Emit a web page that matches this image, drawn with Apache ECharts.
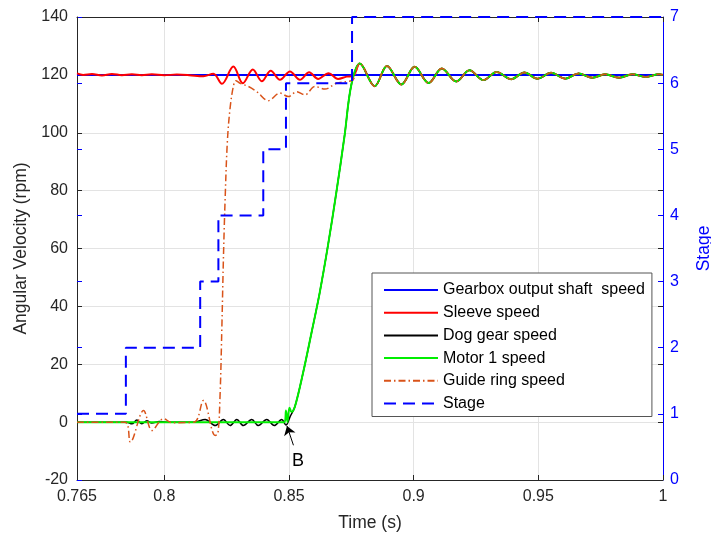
<!DOCTYPE html>
<html>
<head>
<meta charset="utf-8">
<script src="https://cdn.jsdelivr.net/npm/echarts@6/dist/echarts.min.js"></script>
<style>
  html, body { margin: 0; padding: 0; background: #fff; }
  #main { width: 711px; height: 541px; }
</style>
</head>
<body>
<div id="main"></div>
<script>
// tick labels of the time axis (not evenly spaced at the start)
var timeTicks = [0.765, 0.8, 0.85, 0.9, 0.95, 1];

// [time (s), speed (rpm)]
var gearboxSpeed = [[0.765, 120], [1, 120]];

var sleeveStart = [
  [0.765, 120.5], [0.7675, 120], [0.771, 120.3], [0.775, 119.8], [0.779, 120.3],
  [0.783, 119.9], [0.787, 120.2], [0.791, 119.9], [0.795, 120.2], [0.8, 119.9],
  [0.805, 120.1], [0.81, 119.9], [0.8157, 119.5], [0.8197, 120.4], [0.8231, 116.9],
  [0.8277, 122.9], [0.8315, 117.1], [0.8355, 121.9], [0.8391, 117.8], [0.8427, 121.4],
  [0.8464, 118.3], [0.8504, 121.2], [0.8544, 118.3], [0.8581, 120.9], [0.8617, 118.6],
  [0.8659, 120.6], [0.8697, 118.6], [0.8731, 119.4], [0.8757, 119.6]
];

var dogGearStart = [
  [0.765, 0], [0.785, 0], [0.787, -0.6], [0.789, 0.7], [0.791, -0.6], [0.793, 0.5],
  [0.795, -0.3], [0.798, 0.2], [0.801, 0], [0.812, 0], [0.8164, 0.9], [0.8204, -1.2],
  [0.8237, 0.9], [0.8264, -1.2], [0.8291, 0.9], [0.8317, -1.2], [0.8351, 0.9],
  [0.8377, -1.2], [0.8411, 0.9], [0.8441, -1.2], [0.8471, 0.9], [0.8488, -1],
  [0.8505, 2]
];

var motor1Start = [
  [0.765, 0], [0.8482, 0], [0.8488, 4], [0.8494, 0], [0.8502, 5], [0.851, 3.5]
];

// shared run-up of dog gear and motor 1
var rampUp = [
  [0.8524, 5.4], [0.8556, 16.8], [0.859, 30.7], [0.8623, 44.6], [0.8656, 60.8],
  [0.869, 79.4], [0.8723, 99], [0.875, 116.5]
];

var guideRingStart = [
  [0.765, 0], [0.7842, 0], [0.7864, -6.9], [0.7917, 4], [0.7951, -2.9], [0.7997, 1.2],
  [0.8031, -0.2], [0.812, 0], [0.8157, 7.5], [0.8204, -4.6], [0.8215, -4],
  [0.8224, 10], [0.8231, 33], [0.8237, 56], [0.8244, 77], [0.8253, 97],
  [0.8264, 108.6], [0.8277, 116], [0.8287, 118], [0.8304, 117.1], [0.8337, 116],
  [0.8371, 114.2], [0.8417, 111.1], [0.8464, 113.7], [0.8497, 112.5], [0.8531, 114.2],
  [0.8564, 113.1], [0.8604, 116], [0.8644, 115.1], [0.8691, 117.1], [0.8731, 117.7],
  [0.8757, 118.3]
];

// after synchronisation all shafts ring together
var syncedTail = [
  [0.8784, 123.9], [0.8844, 116.1], [0.8893, 123.1], [0.8951, 116.7], [0.9004, 122.8],
  [0.906, 117.2], [0.9113, 122.2], [0.9171, 117.7], [0.9224, 121.6], [0.928, 118.2],
  [0.9333, 121], [0.9391, 118.5], [0.9444, 120.8], [0.9497, 118.7], [0.9551, 120.7],
  [0.9608, 118.7], [0.9661, 120.5], [0.9717, 119], [0.9768, 120.2], [0.9824, 119],
  [0.9877, 120.2], [0.9931, 119.3], [0.9984, 120.2], [1, 120]
];

// [time (s), stage]
var stageSteps = [
  [0.765, 1], [0.7846, 2], [0.8144, 3], [0.8217, 4], [0.8397, 5], [0.8488, 6],
  [0.8753, 7], [1, 7]
];

var FONT = 'Liberation Sans, Arial, sans-serif';
var TXT = '#262626';

var myChart = echarts.init(document.getElementById('main'));

function curve(name, data, color, width, type) {
  return {
    name: name,
    type: 'line',
    data: data,
    xAxisIndex: 0,
    yAxisIndex: 0,
    symbol: 'none',
    smooth: 0.35,
    lineStyle: { color: color, width: width, type: type || 'solid' },
    itemStyle: { color: color }
  };
}

var dogGear = curve('Dog gear speed', dogGearStart.concat(rampUp, syncedTail), '#000000', 1.5);
dogGear.markLine = {
  silent: true,
  animation: false,
  symbol: ['none', 'arrow'],
  symbolSize: 9,
  label: { show: false },
  lineStyle: { color: '#000', width: 1, type: 'solid' },
  data: [[{ coord: [0.8518, -8] }, { coord: [0.8492, -1.3] }]]
};
dogGear.markPoint = {
  silent: true,
  animation: false,
  symbol: 'circle',
  symbolSize: 0,
  label: { show: true, formatter: 'B', color: '#000', fontSize: 18, fontFamily: FONT },
  data: [{ coord: [0.8536, -13.5] }]
};

var option = {
  animation: false,
  textStyle: { fontFamily: FONT },
  grid: { left: 77, right: 48, top: 17, bottom: 61, outerBoundsMode: 'none', containLabel: false },
  legend: {
    orient: 'vertical',
    left: 372,
    top: 273,
    selectedMode: false,
    itemWidth: 54,
    itemHeight: 14,
    itemGap: 6.7,
    padding: [9, 7, 5, 11],
    backgroundColor: '#fff',
    borderColor: '#555',
    borderWidth: 1,
    itemStyle: { opacity: 0 },
    textStyle: { fontSize: 16, lineHeight: 16, color: '#000', fontFamily: FONT },
    data: ['Gearbox output shaft  speed', 'Sleeve speed', 'Dog gear speed',
           'Motor 1 speed', 'Guide ring speed', 'Stage']
  },
  xAxis: [{
    type: 'value',
    position: 'bottom',
    min: 0.765,
    max: 1,
    name: 'Time (s)',
    nameLocation: 'middle',
    nameGap: 34,
    nameTextStyle: { fontSize: 17.5, color: TXT, fontFamily: FONT },
    axisLine: { onZero: false, lineStyle: { color: TXT } },
    axisTick: { inside: true, length: 5, customValues: timeTicks, lineStyle: { color: TXT } },
    axisLabel: { customValues: timeTicks, fontSize: 16, color: TXT, margin: 9,
      formatter: function (v) { return String(+v.toFixed(3)); } },
    splitLine: { show: true, lineStyle: { color: '#e3e3e3' } }
  }, {
    type: 'value',
    position: 'top',
    min: 0.765,
    max: 1,
    axisLine: { onZero: false, lineStyle: { color: TXT } },
    axisTick: { inside: true, length: 5, customValues: timeTicks, lineStyle: { color: TXT } },
    axisLabel: { show: false },
    splitLine: { show: false }
  }],
  yAxis: [{
    type: 'value',
    position: 'left',
    min: -20,
    max: 140,
    interval: 20,
    name: 'Angular Velocity (rpm)',
    nameLocation: 'middle',
    nameGap: 43,
    nameTextStyle: { fontSize: 17.5, color: TXT, fontFamily: FONT },
    axisLine: { show: true, onZero: false, lineStyle: { color: TXT } },
    axisTick: { show: true, inside: true, length: 5, lineStyle: { color: TXT } },
    axisLabel: { fontSize: 16, color: TXT, margin: 9 },
    splitLine: { show: true, lineStyle: { color: '#e3e3e3' } }
  }, {
    type: 'value',
    position: 'right',
    min: 0,
    max: 7,
    interval: 1,
    name: 'Stage',
    nameLocation: 'middle',
    nameGap: 32,
    nameTextStyle: { fontSize: 17.5, color: '#0000ff', fontFamily: FONT },
    axisLine: { show: true, onZero: false, lineStyle: { color: '#0000ff' } },
    axisTick: { show: true, inside: true, length: 5, lineStyle: { color: '#0000ff' } },
    axisLabel: { fontSize: 16, color: '#0000ff', margin: 7 },
    splitLine: { show: false }
  }, {
    // mirrored ticks of the speed axis on the right edge
    type: 'value',
    position: 'right',
    min: -20,
    max: 140,
    interval: 20,
    axisLine: { show: false, onZero: false },
    axisTick: { show: true, inside: true, length: 5, lineStyle: { color: TXT } },
    axisLabel: { show: false },
    splitLine: { show: false }
  }, {
    // mirrored ticks of the stage axis on the left edge
    type: 'value',
    position: 'left',
    min: 0,
    max: 7,
    interval: 1,
    axisLine: { show: false, onZero: false },
    axisTick: { show: true, inside: true, length: 5, lineStyle: { color: '#0000ff' } },
    axisLabel: { show: false },
    splitLine: { show: false }
  }],
  series: [
    curve('Gearbox output shaft  speed', gearboxSpeed, '#0000ff', 2),
    curve('Sleeve speed', sleeveStart.concat(syncedTail), '#ff0000', 2),
    dogGear,
    curve('Motor 1 speed', motor1Start.concat(rampUp, syncedTail), '#00ee00', 2),
    curve('Guide ring speed', guideRingStart.concat(syncedTail), '#d95319', 1.5, [7, 3, 1.5, 3]),
    {
      name: 'Stage',
      type: 'line',
      data: stageSteps,
      yAxisIndex: 1,
      step: 'end',
      symbol: 'none',
      lineStyle: { color: '#0000ff', width: 2, type: [12, 7] },
      itemStyle: { color: '#0000ff' }
    }
  ]
};

myChart.setOption(option);
</script>
</body>
</html>
